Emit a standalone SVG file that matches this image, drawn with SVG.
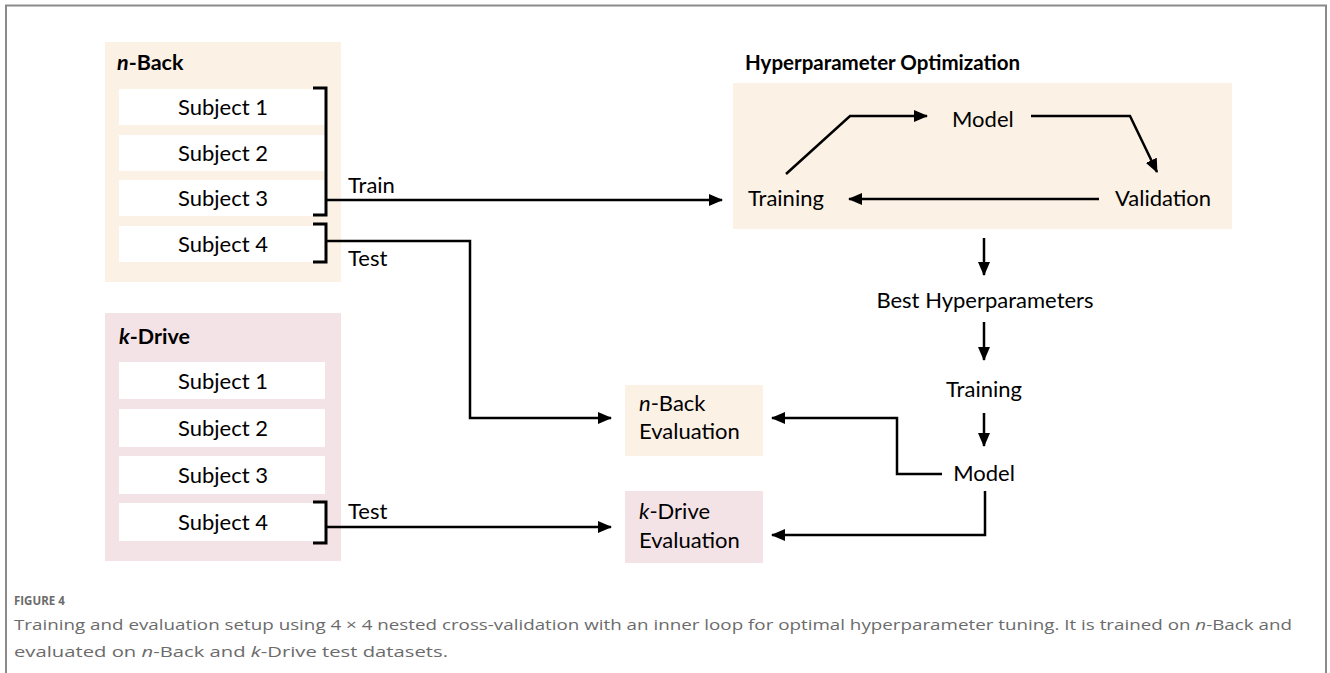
<svg xmlns="http://www.w3.org/2000/svg" width="1330" height="673" viewBox="0 0 1330 673">
<defs>
<marker id="ah" markerWidth="14" markerHeight="12" refX="13" refY="6" orient="auto" markerUnits="userSpaceOnUse">
<path d="M0,0 L14,6 L0,12 Z" fill="#000"/>
</marker>
<style>
.t{font-family:Lato,"Noto Sans",sans-serif;font-size:22px;fill:#000}
.b{font-weight:bold;font-size:21.5px}
.c{text-anchor:middle}
.sub{fill:#fff}
.cream{fill:#fcf1e5}
.pink{fill:#f4e3e6}
.ln{fill:none;stroke:#000;stroke-width:2.5}
.br{fill:none;stroke:#000;stroke-width:3}
.cap{font-family:"Open Sans","Noto Sans",sans-serif;fill:#6b6b6b}
</style>
</defs>
<rect width="1330" height="673" fill="#fff"/>
<path d="M6,673 V5.5 H1326 V673" fill="none" stroke="#8a8a8a" stroke-width="2"/>

<g id="nback">
<rect class="cream" x="105" y="42" width="236" height="240"/>
<text class="t b" x="117" y="70"><tspan font-style="italic">n</tspan>-Back</text>
<rect class="sub" x="119" y="89" width="206" height="36"/>
<rect class="sub" x="119" y="135" width="206" height="36"/>
<rect class="sub" x="119" y="180" width="206" height="36"/>
<rect class="sub" x="119" y="226" width="206" height="36"/>
<text class="t c" x="223" y="115">Subject 1</text>
<text class="t c" x="223" y="161">Subject 2</text>
<text class="t c" x="223" y="206">Subject 3</text>
<text class="t c" x="223" y="252">Subject 4</text>
</g>

<g id="kdrive">
<rect class="pink" x="105" y="313" width="236" height="248"/>
<text class="t b" x="119" y="344"><tspan font-style="italic">k</tspan>-Drive</text>
<rect class="sub" x="119" y="362" width="206" height="37"/>
<rect class="sub" x="119" y="409" width="206" height="38"/>
<rect class="sub" x="119" y="456" width="206" height="38"/>
<rect class="sub" x="119" y="503" width="206" height="38"/>
<text class="t c" x="223" y="389">Subject 1</text>
<text class="t c" x="223" y="436">Subject 2</text>
<text class="t c" x="223" y="483">Subject 3</text>
<text class="t c" x="223" y="530">Subject 4</text>
</g>

<g id="hpo">
<rect class="cream" x="733" y="83" width="499" height="146"/>
<text class="t b" x="745" y="70" style="font-size:20.5px">Hyperparameter Optimization</text>
<text class="t" x="952" y="127">Model</text>
<text class="t" x="748" y="206">Training</text>
<text class="t" x="1115" y="206">Validation</text>
</g>

<g id="best">
<text class="t c" x="985" y="308">Best Hyperparameters</text>
</g>
<g id="training2">
<text class="t c" x="984" y="397">Training</text>
</g>
<g id="model2">
<text class="t c" x="984" y="481">Model</text>
</g>

<g id="nbackeval">
<rect class="cream" x="625" y="385" width="138" height="71"/>
<text class="t" x="639" y="411"><tspan font-style="italic">n</tspan>-Back</text>
<text class="t" x="639" y="439">Evaluation</text>
</g>
<g id="kdriveeval">
<rect class="pink" x="625" y="491" width="138" height="72"/>
<text class="t" x="639" y="519"><tspan font-style="italic">k</tspan>-Drive</text>
<text class="t" x="639" y="548">Evaluation</text>
</g>

<g id="connectors">
<path class="br" d="M313,88 H326 V215 H313"/>
<path class="br" d="M313,224 H326 V262 H313"/>
<path class="br" d="M313,502 H326 V543 H313"/>
<path class="ln" d="M326,200 H722" marker-end="url(#ah)"/>
<path class="ln" d="M326,241 H470 V418 H611" marker-end="url(#ah)"/>
<path class="ln" d="M326,527 H611" marker-end="url(#ah)"/>
<path class="ln" d="M786,174 L850,116 H927" marker-end="url(#ah)"/>
<path class="ln" d="M1031,116 H1130 L1157,172" marker-end="url(#ah)"/>
<path class="ln" d="M1099,199 H849" marker-end="url(#ah)"/>
<path class="ln" d="M984,238 V275" marker-end="url(#ah)"/>
<path class="ln" d="M984,322 V360" marker-end="url(#ah)"/>
<path class="ln" d="M984,413 V446" marker-end="url(#ah)"/>
<path class="ln" d="M942,474 H897 V418 H772" marker-end="url(#ah)"/>
<path class="ln" d="M985,491 V535 H772" marker-end="url(#ah)"/>
<text class="t" x="348" y="193">Train</text>
<text class="t" x="348" y="266">Test</text>
<text class="t" x="348" y="519">Test</text>
</g>

<g id="caption">
<text class="cap" x="14" y="605" font-size="11.5" font-weight="bold" fill="#888">FIGURE 4</text>
<text class="cap" x="14" y="630" font-size="15" textLength="1278" lengthAdjust="spacingAndGlyphs">Training and evaluation setup using 4 × 4 nested cross-validation with an inner loop for optimal hyperparameter tuning. It is trained on <tspan font-style="italic">n</tspan>-Back and</text>
<text class="cap" x="14" y="657" font-size="15" textLength="434" lengthAdjust="spacingAndGlyphs">evaluated on <tspan font-style="italic">n</tspan>-Back and <tspan font-style="italic">k</tspan>-Drive test datasets.</text>
</g>
</svg>
